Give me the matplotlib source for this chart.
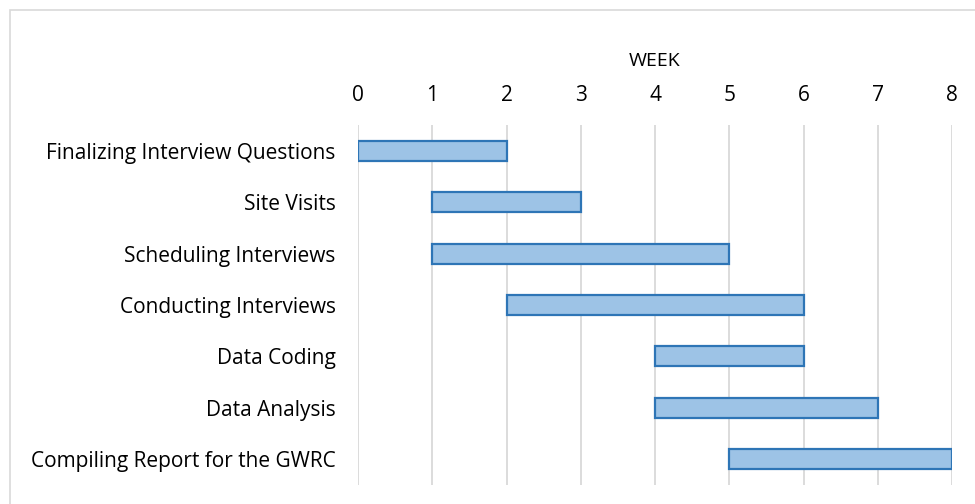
import matplotlib.pyplot as plt
from matplotlib.patches import Rectangle

tasks = [
    "Finalizing Interview Questions",
    "Site Visits",
    "Scheduling Interviews",
    "Conducting Interviews",
    "Data Coding",
    "Data Analysis",
    "Compiling Report for the GWRC",
]
start_week = [0, 1, 1, 2, 4, 4, 5]
duration = [2, 2, 4, 4, 2, 3, 3]
week_ticks = [0, 1, 2, 3, 4, 5, 6, 7, 8]

plt.rcParams["font.family"] = ["Open Sans", "DejaVu Sans"]

W, H = 975, 504
fig = plt.figure(figsize=(W / 100, H / 100), dpi=100)
ax = fig.add_axes([358 / W, 1 - 485 / H, (952 - 358) / W, (485 - 125) / H])

# outer chart border (runs off the right and bottom edges)
fig.patches.append(Rectangle((10 / W, -0.05), 1.1, 1 - 10 / H + 0.05,
                             transform=fig.transFigure, fill=False,
                             edgecolor="#d9d9d9", linewidth=1.2))

ypos = list(range(len(tasks)))
ax.barh(ypos, duration, left=start_week, height=0.39,
        color="#9dc3e6", edgecolor="#2e75b6", linewidth=1.6, zorder=3)

ax.set_xlim(0, 8)
ax.set_ylim(len(tasks) - 0.5, -0.5)
ax.set_xticks(week_ticks)
ax.xaxis.tick_top()
ax.xaxis.set_label_position("top")
ax.set_xlabel("WEEK", fontsize=14, labelpad=13)
ax.tick_params(axis="x", length=0, pad=14, labelsize=15)
ax.set_yticks(ypos)
ax.set_yticklabels(tasks)
ax.tick_params(axis="y", length=0, pad=16, labelsize=15)
ax.grid(axis="x", color="#d9d9d9", linewidth=1.3, zorder=0)
for s in ax.spines.values():
    s.set_visible(False)

fig.savefig("out.png", dpi=100)
